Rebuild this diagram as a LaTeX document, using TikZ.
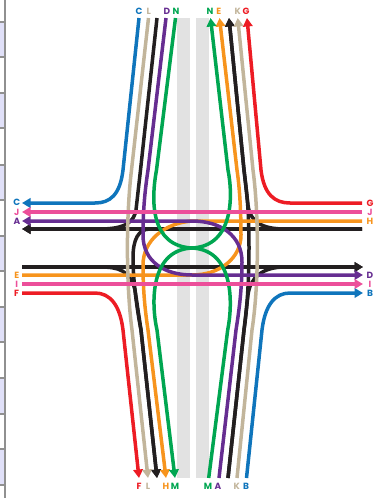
\documentclass[tikz,border=0pt]{standalone}
\usepackage{fontspec}
\setmainfont{Poppins}
\usetikzlibrary{arrows.meta}
\definecolor{cblue}{HTML}{0F75BC}
\definecolor{cbeige}{HTML}{C2B59B}
\definecolor{cblack}{HTML}{231F20}
\definecolor{cpurple}{HTML}{662D91}
\definecolor{cgreen}{HTML}{00A651}
\definecolor{corange}{HTML}{F7941D}
\definecolor{cred}{HTML}{ED1C24}
\definecolor{cpink}{HTML}{EC4F9A}
\definecolor{cband}{HTML}{E2E2E2}
\definecolor{ctab}{HTML}{E0E0F8}
\definecolor{cedge}{HTML}{909090}
\tikzset{
  route/.style={line width=3.5pt,line join=round},
  headed/.style={-{Triangle[length=8.5pt,width=9.5pt]}},
  lab/.style={font=\fontsize{9}{10}\selectfont\bfseries,inner sep=0pt,anchor=center},
  tabedge/.style={draw=cedge,line width=1.8pt}
}
\begin{document}
\begin{tikzpicture}[x=1pt,y=-1pt]
\useasboundingbox (0,0) rectangle (385,498);
% page-strip tabs at the left edge
\foreach \t/\b in {23/57,94/128,165/200,237/271,308/342,379/413,450/484}
  \fill[ctab] (0,\t) rectangle (5,\b);
\draw[tabedge] (5,0) -- (5,498);
\foreach \y in {22,57,93,128,165,200,236,271,307,342,378,414,449,485}
  \draw[cedge,line width=2pt] (0,\y) -- (6,\y);
% central bands
\fill[cband] (177,18) rectangle (190,478);
\fill[cband] (196,18) rectangle (209,478);
% free ends of the routes
\coordinate (tC) at (139,18);
\coordinate (tL) at (148.5,18);
\coordinate (tX) at (157,18);
\coordinate (tD) at (166,18);
\coordinate (tN) at (175.5,18);
\coordinate (uN) at (210.5,18);
\coordinate (uE) at (219.5,18);
\coordinate (uX) at (229,18);
\coordinate (uK) at (237.7,18);
\coordinate (uG) at (247,18);
\coordinate (bF) at (139,478);
\coordinate (bL) at (148,478);
\coordinate (bX) at (157,478);
\coordinate (bH) at (166,478);
\coordinate (bM) at (175,478);
\coordinate (cM) at (208.7,478);
\coordinate (cA) at (219,478);
\coordinate (cX) at (228,478);
\coordinate (cK) at (237,478);
\coordinate (cB) at (246.5,478);
\coordinate (wC) at (22,203);
\coordinate (wJ) at (22,212);
\coordinate (wA) at (22,221);
\coordinate (wX) at (22,229);
\coordinate (wY) at (22,267);
\coordinate (wE) at (22,275);
\coordinate (wI) at (22,284);
\coordinate (wF) at (22,293);
\coordinate (eG) at (362,203);
\coordinate (eJ) at (362,212);
\coordinate (eH) at (362,221);
\coordinate (eX) at (362,229);
\coordinate (eY) at (363,267);
\coordinate (eD) at (363,275);
\coordinate (eI) at (363,284);
\coordinate (eB) at (363,293);
% black routes
\begin{scope}[route,cblack]
  \draw[headed] (eX) -- (wX);
  \draw[headed] (wY) -- (eY);
  \draw[headed] (tX) -- (140.5,170) -- (136,210) .. controls (134,222) and (125,229) .. (100,229) -- (wX);
  \draw[headed] (eX) -- (150,229) .. controls (138,229) and (133,240) .. (133,258) .. controls (133,280) and (137,310) .. (141,330) -- (bX);
  \draw[headed] (wY) -- (100,267) .. controls (118,267) and (130,270) .. (135,290) -- (141,330) -- (bX);
  \draw[headed] (cX) -- (244,330) .. controls (247,310) and (249,280) .. (249,248) .. controls (249,210) and (247,195) .. (244,170) -- (uX);
  \draw[headed] (eX) -- (285,229) .. controls (262,229) and (250,222) .. (248,205) -- (244,170) -- (uX);
  \draw[headed] (cX) -- (244,330) -- (248,295) .. controls (250,278) and (262,267) .. (285,267) -- (eY);
\end{scope}
% red and blue corners
\draw[route,cblue,headed] (tC) -- (123,170) .. controls (120,195) and (110,203) .. (95,203) -- (wC);
\draw[route,cblue,headed] (cB) -- (262,330) .. controls (265,305) and (275,293) .. (290,293) -- (eB);
\draw[route,cred,headed] (eG) -- (290,203) .. controls (275,203) and (264,195) .. (261,170) -- (uG);
\draw[route,cred,headed] (wF) -- (95,293) .. controls (110,293) and (120,305) .. (123,330) -- (bF);
% orange
\draw[route,corange,headed] (eH) -- (192,221) .. controls (165,223) and (143,240) .. (143,265) .. controls (143,290) and (145,310) .. (148,330) -- (bH);
\draw[route,corange,headed] (wE) -- (192,275) .. controls (220,275) and (241,258) .. (241,235) .. controls (241,215) and (240,190) .. (237,170) -- (uE);
% purple
\draw[route,cpurple,headed] (tD) -- (148,170) .. controls (145,190) and (143,210) .. (143,235) .. controls (143,262) and (165,275) .. (192,275) -- (eD);
\draw[route,cpurple,headed] (cA) -- (236,330) .. controls (240,305) and (242,285) .. (242,262) .. controls (242,235) and (220,221) .. (192,221) -- (wA);
% green
\draw[route,cgreen,headed] (tN) -- (156.5,170) .. controls (151,200) and (150,246) .. (192,248) .. controls (234,246) and (233,195) .. (228,170) -- (uN);
\draw[route,cgreen,headed] (cM) -- (227.7,330) .. controls (233,303) and (234,250) .. (192,248) .. controls (150,250) and (151,303) .. (157,330) -- (bM);
% beige
\draw[route,cbeige,headed] (tL) -- (131.5,170) .. controls (126,215) and (126,285) .. (132,330) -- (bL);
\draw[route,cbeige,headed] (cK) -- (252,330) .. controls (259,285) and (259,215) .. (253,170) -- (uK);
% pink
\draw[route,cpink,headed] (eJ) -- (wJ);
\draw[route,cpink,headed] (wI) -- (eI);
% labels
\begin{scope}[every node/.style={lab}]
  \node[text=cblue] (lt1) at (139,11.3) {C};
  \node[text=cbeige] (lt2) at (148.7,11.3) {L};
  \node[text=cpurple] (lt3) at (167,11.3) {D};
  \node[text=cgreen] (lt4) at (176,11.3) {N};
  \node[text=cgreen] (lt5) at (210,11.3) {N};
  \node[text=corange] (lt6) at (218.7,11.3) {E};
  \node[text=cbeige] (lt7) at (237.7,11.3) {K};
  \node[text=cred] (lt8) at (246,11.3) {G};
  \node[text=cred] (lb1) at (139,486.7) {F};
  \node[text=cbeige] (lb2) at (148,486.7) {L};
  \node[text=corange] (lb3) at (166,486.7) {H};
  \node[text=cgreen] (lb4) at (175,486.7) {M};
  \node[text=cgreen] (lb5) at (208,486.7) {M};
  \node[text=cpurple] (lb6) at (218,486.7) {A};
  \node[text=cbeige] (lb7) at (236.7,486.7) {K};
  \node[text=cblue] (lb8) at (246,486.7) {B};
  \node[text=cblue] (ll1) at (16.7,202) {C};
  \node[text=cpink] (ll2) at (16.7,212) {J};
  \node[text=cpurple] (ll3) at (17,221) {A};
  \node[text=corange] (ll4) at (16.7,275) {E};
  \node[text=cpink] (ll5) at (16.7,284) {I};
  \node[text=cred] (ll6) at (16.7,293) {F};
  \node[text=cred] (lr1) at (370,203) {G};
  \node[text=cpink] (lr2) at (370,212) {J};
  \node[text=corange] (lr3) at (370,221) {H};
  \node[text=cpurple] (lr4) at (370,275) {D};
  \node[text=cpink] (lr5) at (370,284) {I};
  \node[text=cblue] (lr6) at (370,293) {B};
\end{scope}
\end{tikzpicture}
\end{document}
